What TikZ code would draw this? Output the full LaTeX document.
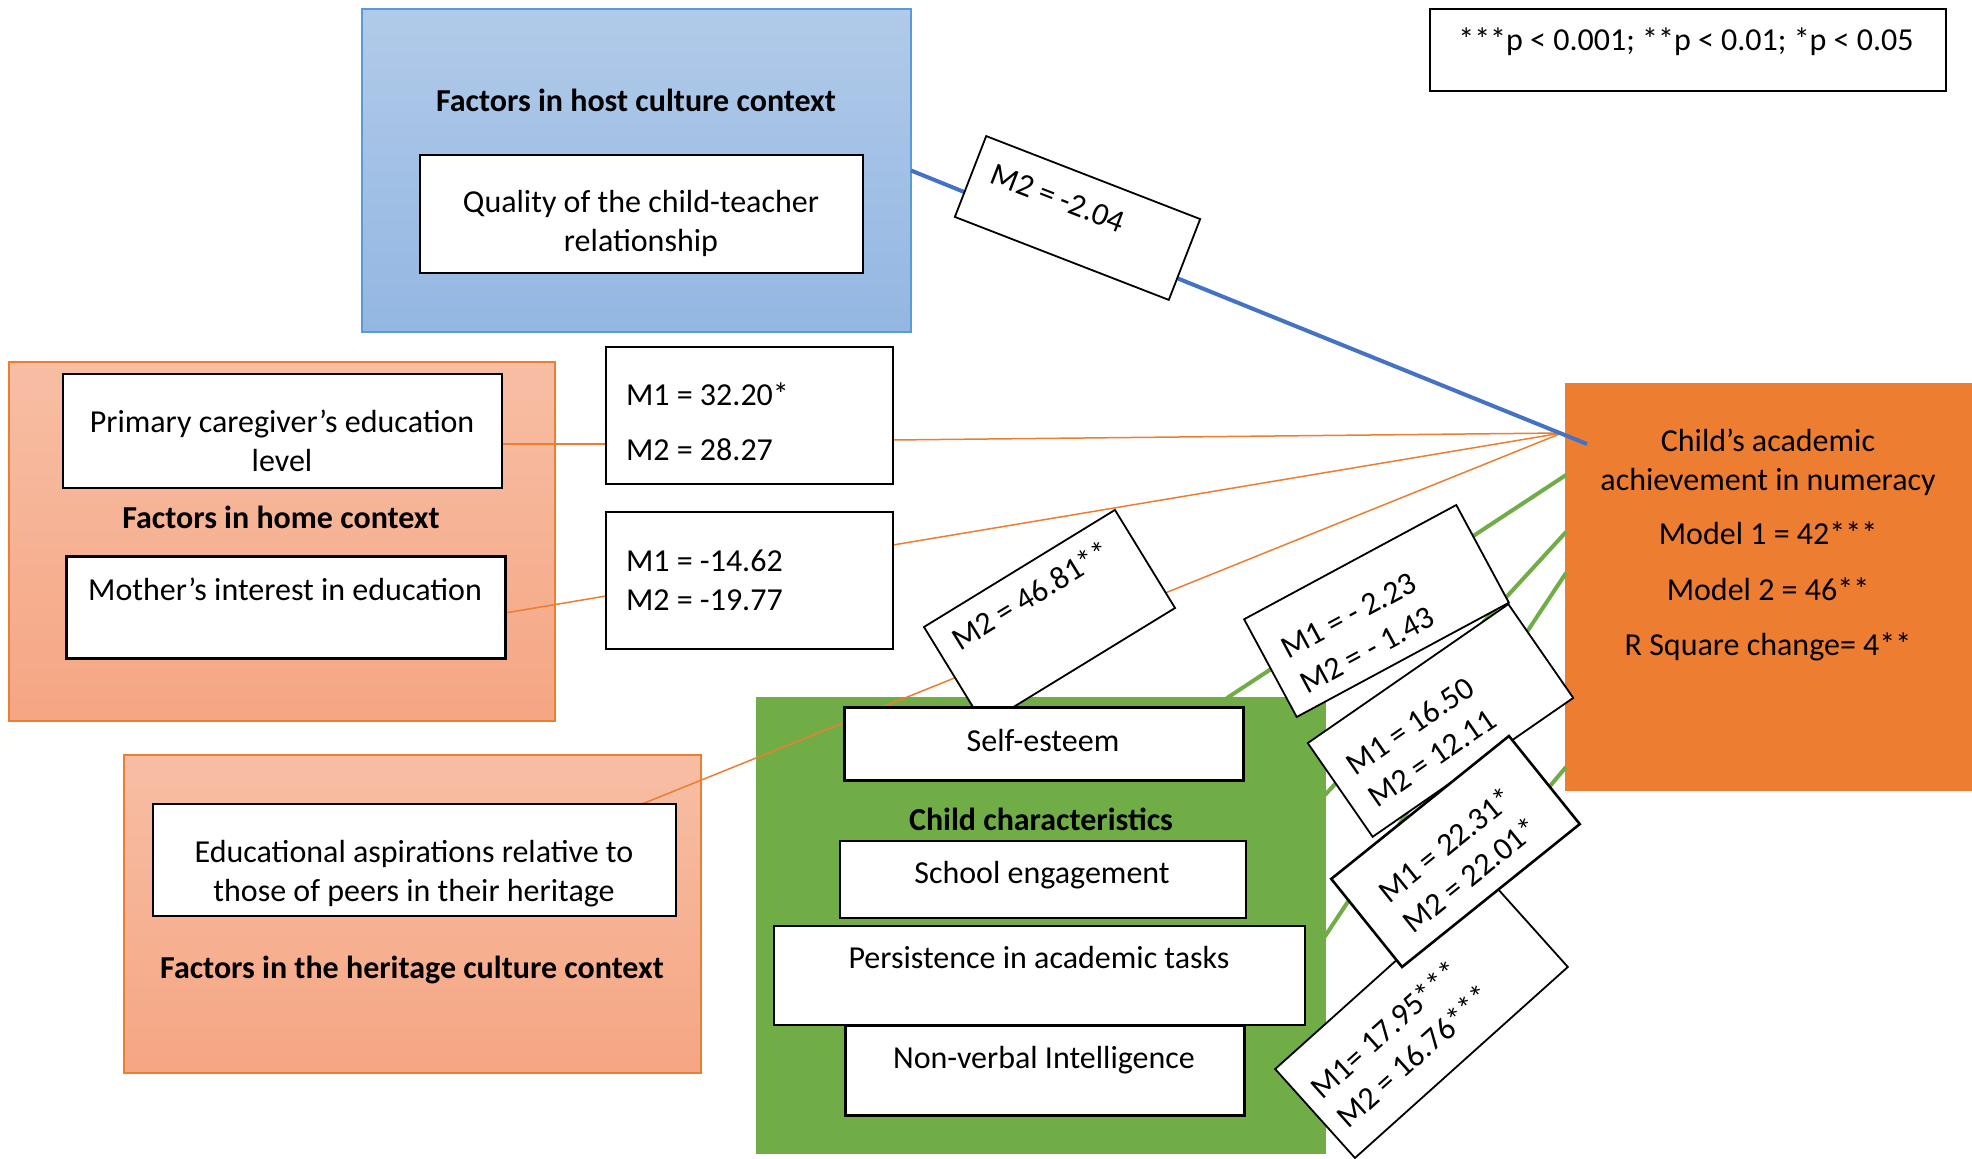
\documentclass[tikz,border=0pt]{standalone}
\usepackage{fontspec}
\setmainfont{Carlito}
\pgfdeclarelayer{panels}
\pgfdeclarelayer{links}
\pgfsetlayers{panels,links,main}

\definecolor{hostTop}{HTML}{B1CAE9}
\definecolor{hostBot}{HTML}{93B7E2}
\definecolor{hostEdge}{HTML}{5B9BD5}
\definecolor{homeTop}{HTML}{F7BEA4}
\definecolor{homeBot}{HTML}{F5A683}
\definecolor{homeEdge}{HTML}{ED7D31}
\definecolor{childGreen}{HTML}{70AD47}
\definecolor{outcome}{HTML}{ED7D31}
\definecolor{pathBlue}{HTML}{4472C4}
\definecolor{pathOrange}{HTML}{ED7D31}

\begin{document}
\begin{tikzpicture}[x=0.5pt,y=-0.5pt,
  every node/.style={font=\fontsize{16}{19.5}\selectfont, inner sep=0pt, outer sep=0pt},
  panel/.style={rectangle, line width=1pt},
  whitebox/.style={rectangle, draw=black, fill=white, line width=1pt},
  heavybox/.style={whitebox, line width=1.5pt},
  labelbox/.style={rectangle, draw=black, fill=white, line width=0.9pt},
  heading/.style={font=\bfseries\fontsize{16}{19.5}\selectfont},
  orangelink/.style={draw=pathOrange, line width=0.75pt},
  bluelink/.style={draw=pathBlue, line width=2pt},
  greenlink/.style={draw=childGreen, line width=2pt}]

\useasboundingbox (0,0) rectangle (1972,1159);

% ---------- context panels ----------
\begin{pgfonlayer}{panels}
\node[panel, draw=hostEdge, top color=hostTop, bottom color=hostBot,
      minimum width=274.5pt, minimum height=161.5pt] (host) at (636.5,170.5) {};
\node[panel, draw=homeEdge, top color=homeTop, bottom color=homeBot,
      minimum width=273pt, minimum height=179.5pt] (home) at (282,541.5) {};
\node[panel, draw=homeEdge, top color=homeTop, bottom color=homeBot,
      minimum width=288.5pt, minimum height=159pt] (heritage) at (412.5,914) {};
\node[panel, draw=childGreen, fill=childGreen,
      minimum width=284pt, minimum height=227.5pt] (child) at (1041,925.5) {};
\node[panel, draw=outcome, fill=outcome,
      minimum width=202.5pt, minimum height=203pt] (target) at (1768.5,587) {};
\node[whitebox, line width=0.8pt, minimum width=258pt, minimum height=41pt] (pbox) at (1688,50) {};
\end{pgfonlayer}

\node (ptext) at (1686,41.5) {***p < 0.001; **p < 0.01; *p < 0.05};

% ---------- host culture context ----------
\node[heading] (hosthead) at (636,100) {Factors in host culture context};
\node[whitebox, minimum width=221.5pt, minimum height=59pt] (quality) at (641.5,214) {};
\node[align=center] (qualitytxt) at (641,223) {Quality of the child-teacher\\relationship};

% ---------- home context ----------
\node[whitebox, minimum width=219.5pt, minimum height=57pt] (primary) at (282.5,431) {};
\node[align=center] (primarytxt) at (282,441) {Primary caregiver’s education\\level};
\node[heading] (homehead) at (281,517) {Factors in home context};
\node[heavybox, minimum width=219.5pt, minimum height=51pt] (mother) at (285.5,608) {};
\node (mothertxt) at (285,589) {Mother’s interest in education};

\node[whitebox, minimum width=143.5pt, minimum height=68.5pt] (cb1) at (749.5,415.5) {};
\node[align=left, anchor=west] (cb1txt) at (626,422) {M1 = 32.20*\\[8pt]M2 = 28.27};
\node[whitebox, minimum width=143.5pt, minimum height=68.5pt] (cb2) at (749.5,580.5) {};
\node[align=left, anchor=west] (cb2txt) at (626,580) {M1 = -14.62\\M2 = -19.77};

% ---------- heritage culture context ----------
\node[whitebox, minimum width=261.5pt, minimum height=56pt] (edu) at (414.5,860) {};
\node[align=center] (edutxt) at (414,874) {Educational aspirations relative to\\those of peers in their heritage};
\node[heading] (herhead) at (412,969.5) {Factors in the heritage culture context};

% ---------- child characteristics (lower boxes) ----------
\node[heading] (childhead) at (1041,819) {Child characteristics};
\node[whitebox, minimum width=265.5pt, minimum height=49.5pt] (persist) at (1039.5,975.5) {};
\node (persisttxt) at (1039,958) {Persistence in academic tasks};
\node[heavybox, minimum width=199.5pt, minimum height=44.5pt] (nonverbal) at (1044.5,1070.5) {};
\node (nonverbaltxt) at (1044,1060) {Non-verbal Intelligence};

% ---------- outcome ----------
\node[align=center] (targettxt) at (1768,545)
  {Child’s academic\\achievement in numeracy\\[7.6pt]Model 1 = 42***\\[8.3pt]Model 2 = 46**\\[8pt]R Square change= 4**};

% ---------- paths ----------
\coordinate (conv) at (1562,433);
\coordinate (blueend) at (1587,444);
\begin{pgfonlayer}{links}
\draw[orangelink] ([yshift=-6.5pt]primary.east) -- ([yshift=-6.5pt]primary.east -| cb1.west);
\draw[orangelink] ([yshift=-12.25pt]cb1.east) -- (conv);
\draw[orangelink] ([yshift=-2.5pt]mother.east) -- ([yshift=-7.75pt]cb2.west);
\draw[orangelink] ([yshift=17.75pt]cb2.east) -- (conv);
\draw[orangelink] ([xshift=113.75pt]edu.north) -- (conv);
\draw[bluelink] (host.east) -- (blueend);
\draw[greenlink] ([xshift=93pt]child.north) -- ([yshift=56pt]target.west);
\draw[greenlink] ([yshift=65.25pt]child.east) -- ([yshift=27.5pt]target.west);
\draw[greenlink] ([xshift=-3pt]persist.east) -- ([yshift=7pt]target.west);
\draw[greenlink] ([yshift=-64.75pt]child.east) -- ([yshift=-90pt]target.west);
\end{pgfonlayer}

% ---------- coefficient labels on the paths ----------
\node[labelbox, rotate=-21.2, minimum width=114.75pt, minimum height=43.35pt] (lbhost) at (1077.5,218) {};
\node[rotate=-21.2] (lbhosttxt) at (1058,198) {M2 = -2.04};

\node[labelbox, rotate=31.5, minimum width=112pt, minimum height=57.5pt] (lbher) at (1049.5,617.5) {};
\node[rotate=31.5] (lbhertxt) at (1031,595) {M2 = 46.81**};

\node[labelbox, rotate=28.3, minimum width=120.5pt, minimum height=55.5pt] (lbself) at (1376.5,611) {};
\node[rotate=28.3, align=left] (lbselftxt) at (1358,633) {M1 = - 2.23\\M2 = - 1.43};

\node[labelbox, rotate=34.7, minimum width=122pt, minimum height=57pt] (lbschool) at (1440.5,720.5) {};
\node[rotate=34.7, align=left] (lbschooltxt) at (1421,742) {M1 = 16.50\\M2 = 12.11};

\node[labelbox, rotate=41.9, minimum width=143pt, minimum height=59.75pt] (lbnonverbal) at (1421.5,1018) {};
\node[rotate=41.9, align=left] (lbnonverbaltxt) at (1400.7,1041.5) {M1= 17.95***\\M2 = 16.76***};

\node[labelbox, line width=1.3pt, rotate=38.8, minimum width=114pt, minimum height=56.5pt] (lbpersist) at (1455.5,851.5) {};
\node[rotate=38.8, align=left] (lbpersisttxt) at (1458,859.5) {M1 = 22.31*\\M2 = 22.01*};

% ---------- child characteristics (upper boxes, over the labels) ----------
\node[heavybox, minimum width=199.5pt, minimum height=36.5pt] (selfesteem) at (1043.5,744.5) {};
\node (selfesteemtxt) at (1043,741) {Self-esteem};
\node[whitebox, minimum width=203pt, minimum height=38.5pt] (school) at (1043,879.5) {};
\node (schooltxt) at (1042,875) {School engagement};

\end{tikzpicture}
\end{document}
